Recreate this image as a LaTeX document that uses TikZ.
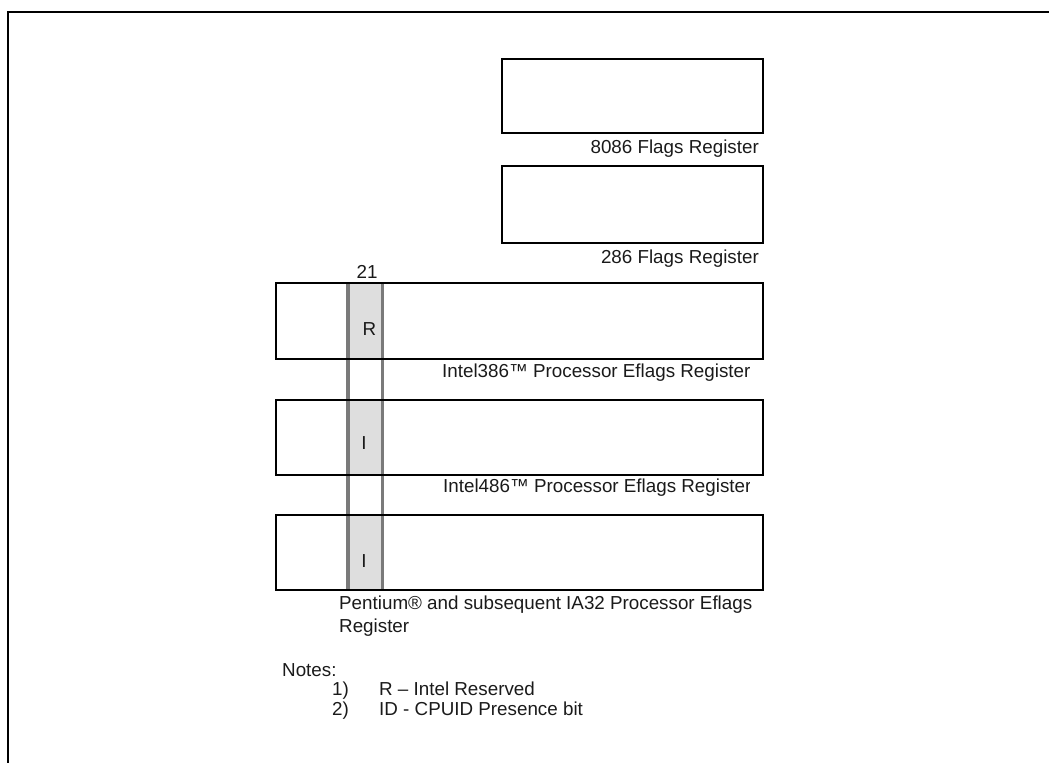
\documentclass[tikz,border=0pt]{standalone}
\usepackage{fontspec}
\setmainfont{Liberation Sans}
\definecolor{cellgray}{HTML}{DEDEDE}
\definecolor{linegray}{HTML}{7A7A7A}
\definecolor{txt}{HTML}{1A1A1A}
\begin{document}
\begin{tikzpicture}[x=1pt,y=-1pt,
  reg/.style={draw=black, line width=1.9pt, rectangle, inner sep=0pt, anchor=north west},
  cell/.style={fill=cellgray, draw=none, rectangle, inner sep=0pt, anchor=north west, minimum width=34pt},
  gline/.style={draw=linegray, line width=3.4pt},
  lab/.style={inner sep=0pt, text=txt, font=\fontsize{18.8}{23}\selectfont},
  frameline/.style={draw=black, line width=2pt}]
\useasboundingbox (0,0) rectangle (1049,763);
% outer frame
\draw[frameline] (1049,12) -- (8,12) -- (8,763);
% shaded bit-21 cells
\node[cell, minimum height=76pt] (c386) at (348,282) {};
\node[cell, minimum height=75pt] (c486) at (348,399) {};
\node[cell, minimum height=75pt] (cP) at (348,514) {};
% bit column lines
\draw[gline] (c386.north west) -- (cP.south west);
\draw[gline] (c386.north east) -- (cP.south east);
% registers
\node[reg, minimum width=261pt, minimum height=74pt] (r8086) at (501,58) {};
\node[reg, minimum width=261pt, minimum height=77pt] (r286) at (501,165) {};
\node[reg, minimum width=487pt, minimum height=76pt] (r386) at (275,282) {};
\node[reg, minimum width=487pt, minimum height=75pt] (r486) at (275,399) {};
\node[reg, minimum width=487pt, minimum height=75pt] (rP) at (275,514) {};
% labels
\node[lab, anchor=base east] (l8086) at (759,153.7) {8086 Flags Register};
\node[lab, anchor=base east] (l286) at (759,263.7) {286 Flags Register};
\node[lab, anchor=base] (b21) at (367,278) {21};
\node[lab, anchor=base] (bR) at (369.5,335.7) {R};
\node[lab, anchor=base] (bI1) at (364,449.7) {I};
\node[lab, anchor=base] (bI2) at (364,567.7) {I};
\begin{scope}
\clip (0,0) rectangle (749.5,763);
\node[lab, anchor=base west] (l386) at (442,377.7) {Intel386™ Processor Eflags Register};
\node[lab, anchor=base west] (l486) at (443,492.7) {Intel486™ Processor Eflags Register};
\end{scope}
\node[lab, anchor=north west, align=left] (lP) at (339,596) {Pentium® and subsequent IA32 Processor Eflags\\Register};
% notes
\node[lab, anchor=base west] (notes) at (282,676) {Notes:};
\node[lab, anchor=base west] (n1) at (332,695) {1)};
\node[lab, anchor=base west] (t1) at (379,695) {R – Intel Reserved};
\node[lab, anchor=base west] (n2) at (332,715.5) {2)};
\node[lab, anchor=base west] (t2) at (379,715.5) {ID - CPUID Presence bit};
\end{tikzpicture}
\end{document}
